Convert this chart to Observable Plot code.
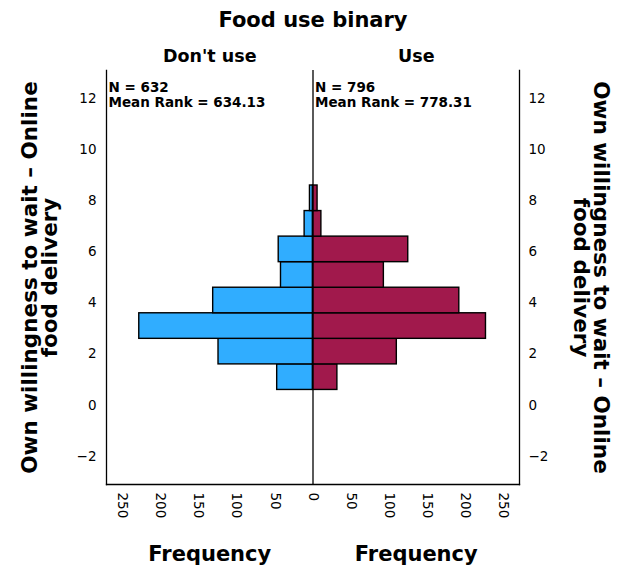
<!DOCTYPE html>
<html><head><meta charset="utf-8">
<script src="https://cdn.jsdelivr.net/npm/d3@7"></script>
<script src="https://cdn.jsdelivr.net/npm/@observablehq/plot@0.6"></script>
<style>body{margin:0;background:#fff}</style>
</head><body><div id="chart"></div>
<script>
// Data
const groups = ["Don't use", "Use"];
const groupN = [632, 796];
const groupMeanRank = ["634.13", "778.31"];
const binLow = [0.6, 1.6, 2.6, 3.6, 4.6, 5.6, 6.6, 7.6];
const binHigh = [1.6, 2.6, 3.6, 4.6, 5.6, 6.6, 7.6, 8.6];
const dontUseCounts = [47, 124, 228, 131, 42, 45, 11, 4];
const useCounts = [32, 110, 227, 192, 93, 125, 11, 6];
const xTicks = [-250, -200, -150, -100, -50, 0, 50, 100, 150, 200, 250];
const yTicks = [-2, 0, 2, 4, 6, 8, 10, 12];
const xMax = 271;
const yDomain = [-3.1, 13.1];
const title = "Food use binary";
const yTitle = "Own willingness to wait \u2013 Online\nfood delivery";
const xTitle = "Frequency";

const blue = "#30adff";
const red = "#a1194c";

const rows = [];
binLow.forEach((lo, i) => {
  rows.push({group: groups[0], low: lo, high: binHigh[i], value: -dontUseCounts[i]});
  rows.push({group: groups[1], low: lo, high: binHigh[i], value: useCounts[i]});
});
const panelCenters = [{x: -xMax / 2, g: groups[0]}, {x: xMax / 2, g: groups[1]}];
const stats = [
  {x: -xMax, t: `N = ${groupN[0]}\nMean Rank = ${groupMeanRank[0]}`},
  {x: 0, t: `N = ${groupN[1]}\nMean Rank = ${groupMeanRank[1]}`}
];

const chart = Plot.plot({
  width: 618, height: 573,
  marginLeft: 106, marginRight: 99, marginTop: 70, marginBottom: 89,
  style: {fontFamily: "DejaVu Sans", fontSize: "13px", color: "#000", background: "#fff", overflow: "visible"},
  x: {domain: [-xMax, xMax], label: null},
  y: {domain: yDomain, label: null},
  color: {domain: groups, range: [blue, red]},
  marks: [
    Plot.rectX(rows, {x1: 0, x2: "value", y1: "low", y2: "high", fill: "group", stroke: "#000", strokeWidth: 1.4}),
    Plot.ruleX([0], {stroke: "#000", strokeWidth: 1.3}),
    Plot.frame({anchor: "left", stroke: "#000", strokeWidth: 1.3}),
    Plot.frame({anchor: "right", stroke: "#000", strokeWidth: 1.3}),
    Plot.frame({anchor: "bottom", stroke: "#000", strokeWidth: 1.3}),
    Plot.axisY({anchor: "left", ticks: yTicks, tickSize: 0, tickPadding: 10, label: null, fontSize: 13.5}),
    Plot.axisY({anchor: "right", ticks: yTicks, tickSize: 0, tickPadding: 9, label: null, fontSize: 13.5}),
    Plot.axisX({anchor: "bottom", ticks: xTicks, tickFormat: d => Math.abs(d), tickRotate: 90, tickSize: 0, tickPadding: 8, label: null, fontSize: 13.5}),
    Plot.text(stats, {x: "x", text: "t", frameAnchor: "top", textAnchor: "start", lineAnchor: "middle", dx: 2, dy: 24, fontWeight: "bold", fontSize: 13.5, lineHeight: 1.1}),
    Plot.text(panelCenters, {x: "x", text: "g", frameAnchor: "top", dy: -21, fontWeight: "bold", fontSize: 17.5}),
    Plot.text(panelCenters, {x: "x", text: () => xTitle, frameAnchor: "bottom", dy: 76, fontWeight: "bold", fontSize: 21}),
    Plot.text([title], {frameAnchor: "top", dy: -58, fontWeight: "bold", fontSize: 21}),
    Plot.text([yTitle], {frameAnchor: "left", textAnchor: "middle", dx: -66, rotate: -90, fontWeight: "bold", fontSize: 21.5, lineHeight: 0.95}),
    Plot.text([yTitle], {frameAnchor: "right", textAnchor: "middle", dx: 71, rotate: 90, fontWeight: "bold", fontSize: 21.5, lineHeight: 0.95})
  ]
});
document.getElementById("chart").appendChild(chart);
</script>
</body></html>
